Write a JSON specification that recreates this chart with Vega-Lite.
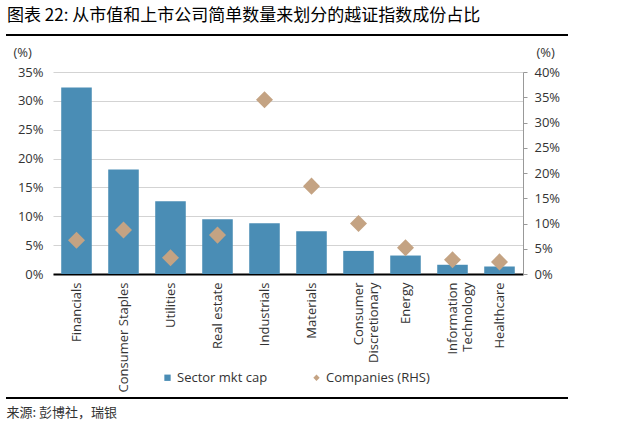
{
  "$schema": "https://vega.github.io/schema/vega-lite/v6.json",
  "width": 470,
  "height": 202,
  "autosize": {"type": "none"},
  "padding": {"left": 53, "top": 72, "right": 95, "bottom": 151},
  "background": "white",
  "title": {
    "text": "图表 22: 从市值和上市公司简单数量来划分的越证指数成份占比",
    "anchor": "start",
    "frame": "group",
    "dx": -46,
    "offset": 9,
    "font": "Noto Sans CJK SC",
    "fontSize": 17,
    "fontWeight": "normal",
    "color": "#000000"
  },
  "config": {"view": {"stroke": null}, "font": "Open Sans"},
  "data": {
    "values": [
      {"sector": "Financials", "mktcap": 32.3, "companies": 6.7},
      {"sector": "Consumer Staples", "mktcap": 18.1, "companies": 8.7},
      {"sector": "Utilities", "mktcap": 12.6, "companies": 3.2},
      {"sector": "Real estate", "mktcap": 9.5, "companies": 7.7},
      {"sector": "Industrials", "mktcap": 8.8, "companies": 34.5},
      {"sector": "Materials", "mktcap": 7.4, "companies": 17.4},
      {"sector": "Consumer Discretionary", "mktcap": 4.0, "companies": 10.0},
      {"sector": "Energy", "mktcap": 3.2, "companies": 5.2},
      {"sector": "Information Technology", "mktcap": 1.6, "companies": 2.8},
      {"sector": "Healthcare", "mktcap": 1.3, "companies": 2.4}
    ]
  },
  "layer": [
    {
      "mark": {"type": "bar"},
      "encoding": {
        "x": {
          "field": "sector",
          "type": "nominal",
          "sort": null,
          "scale": {"paddingInner": 0.35, "paddingOuter": 0.175},
          "axis": {
            "title": "来源: 彭博社，瑞银",
            "titleX": -47,
            "titleY": 138,
            "titleAlign": "left",
            "titleBaseline": "middle",
            "titleFont": "Noto Sans CJK SC",
            "titleFontSize": 13,
            "titleFontWeight": "normal",
            "titleColor": "#333333",
            "labelAngle": -90,
            "labelFontSize": 13,
            "labelColor": "#333333",
            "labelPadding": 8,
            "labelLineHeight": 15,
            "labelLimit": 0,
            "labelOverlap": false,
            "labelExpr": "datum.label == 'Consumer Discretionary' ? ['Consumer', 'Discretionary'] : datum.label == 'Information Technology' ? ['Information', 'Technology'] : datum.label",
            "ticks": false,
            "domainColor": "#000000",
            "domainWidth": 2
          }
        },
        "y": {
          "field": "mktcap",
          "type": "quantitative",
          "scale": {"domain": [0, 35], "nice": false},
          "axis": {
            "title": "(%)",
            "titleAngle": 0,
            "titleX": -40,
            "titleY": -20,
            "titleAlign": "left",
            "titleBaseline": "middle",
            "titleFontWeight": "normal",
            "titleFontSize": 13,
            "titleColor": "#333333",
            "values": [0, 5, 10, 15, 20, 25, 30, 35],
            "labelExpr": "datum.value + '%'",
            "labelFontSize": 13,
            "labelColor": "#333333",
            "labelPadding": 10,
            "domain": false,
            "ticks": false,
            "grid": true,
            "gridColor": "#d3d3d3"
          }
        },
        "color": {
          "datum": "Sector mkt cap",
          "scale": {"domain": ["Sector mkt cap", "Companies (RHS)"], "range": ["#4a8db5", "#c4a383"]},
          "legend": {
            "orient": "none",
            "legendX": 108,
            "legendY": 299,
            "direction": "horizontal",
            "title": null,
            "labelFontSize": 13,
            "labelColor": "#333333",
            "symbolSize": 40,
            "columnPadding": 42,
            "labelOffset": 3,
            "padding": 0,
            "encode": {
              "symbols": {
                "update": {
                  "shape": {"signal": "datum.value === 'Sector mkt cap' ? 'square' : 'diamond'"}
                }
              }
            }
          }
        }
      }
    },
    {
      "mark": {"type": "point", "shape": "diamond", "filled": true, "size": 290, "opacity": 1},
      "encoding": {
        "x": {"field": "sector", "type": "nominal", "sort": null},
        "y": {
          "field": "companies",
          "type": "quantitative",
          "scale": {"domain": [0, 40], "nice": false},
          "axis": {
            "orient": "right",
            "title": "(%)",
            "titleAngle": 0,
            "titleX": 13,
            "titleY": -20,
            "titleAlign": "left",
            "titleBaseline": "middle",
            "titleFontWeight": "normal",
            "titleFontSize": 13,
            "titleColor": "#333333",
            "values": [0, 5, 10, 15, 20, 25, 30, 35, 40],
            "labelExpr": "datum.value + '%'",
            "labelFontSize": 13,
            "labelColor": "#333333",
            "labelPadding": 7,
            "domain": true,
            "domainColor": "#999999",
            "ticks": true,
            "tickColor": "#999999",
            "tickSize": 4,
            "grid": false
          }
        },
        "color": {"datum": "Companies (RHS)"}
      }
    },
    {
      "data": {"values": [{}]},
      "mark": {"type": "rule", "color": "#000000", "strokeWidth": 2},
      "encoding": {"x": {"value": -47}, "x2": {"value": 515}, "y": {"value": -37}}
    },
    {
      "data": {"values": [{}]},
      "mark": {"type": "rule", "color": "#000000", "strokeWidth": 2},
      "encoding": {"x": {"value": -47}, "x2": {"value": 515}, "y": {"value": 326}}
    }
  ],
  "resolve": {"scale": {"y": "independent"}}
}
